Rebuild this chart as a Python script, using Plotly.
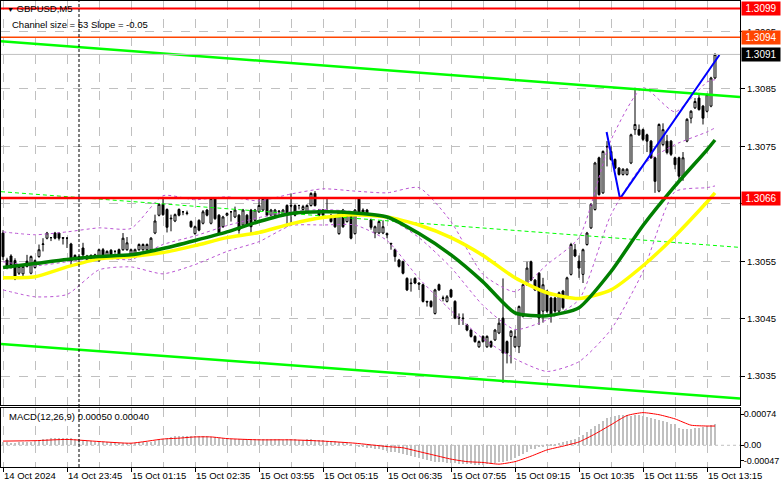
import plotly.graph_objects as go

# ---------------- data ----------------
bars = list(range(179))

opens = [
1.30599,1.30552,1.30559,1.30551,1.30529,1.30528,1.30550,1.30529,1.30539,1.30558,
1.30579,1.30590,1.30591,1.30599,1.30599,1.30591,1.30590,1.30580,1.30560,1.30558,
1.30573,1.30553,1.30554,1.30561,1.30551,1.30570,1.30559,1.30569,1.30567,1.30570,
1.30570,1.30570,1.30560,1.30560,1.30570,1.30570,1.30570,1.30570,1.30599,1.30630,
1.30649,1.30640,1.30625,1.30620,1.30640,1.30636,1.30633,1.30619,1.30598,1.30621,
1.30616,1.30639,1.30616,1.30659,1.30630,1.30610,1.30630,1.30636,1.30627,1.30630,
1.30613,1.30630,1.30639,1.30621,1.30636,1.30639,1.30659,1.30630,1.30630,1.30636,
1.30630,1.30647,1.30647,1.30647,1.30647,1.30640,1.30636,1.30647,1.30668,1.30639,
1.30639,1.30638,1.30630,1.30627,1.30598,1.30639,1.30619,1.30630,1.30598,1.30659,
1.30639,1.30639,1.30622,1.30599,1.30599,1.30599,1.30598,1.30581,1.30570,1.30552,
1.30549,1.30520,1.30512,1.30520,1.30512,1.30509,1.30480,1.30480,1.30459,1.30509,
1.30485,1.30480,1.30500,1.30480,1.30452,1.30451,1.30439,1.30430,1.30419,1.30401,
1.30419,1.30401,1.30410,1.30413,1.30425,1.30451,1.30410,1.30419,1.30401,1.30401,
1.30454,1.30509,1.30549,1.30517,1.30529,1.30463,1.30498,1.30486,1.30486,1.30463,
1.30498,1.30486,1.30527,1.30570,1.30550,1.30527,1.30579,1.30608,1.30640,1.30730,
1.30669,1.30750,1.30741,1.30727,1.30712,1.30701,1.30701,1.30721,1.30779,1.30779,
1.30779,1.30770,1.30759,1.30730,1.30672,1.30753,1.30759,1.30759,1.30730,1.30730,
1.30698,1.30759,1.30799,1.30817,1.30834,1.30820,1.30811,1.30820,1.30869]

highs = [
1.30604,1.30556,1.30562,1.30555,1.30543,1.30543,1.30561,1.30560,1.30553,1.30579,
1.30590,1.30601,1.30592,1.30601,1.30600,1.30592,1.30592,1.30582,1.30562,1.30560,
1.30582,1.30561,1.30562,1.30563,1.30572,1.30573,1.30569,1.30571,1.30569,1.30572,
1.30599,1.30592,1.30572,1.30572,1.30581,1.30581,1.30581,1.30592,1.30631,1.30651,
1.30662,1.30642,1.30631,1.30633,1.30642,1.30637,1.30638,1.30621,1.30612,1.30623,
1.30639,1.30641,1.30661,1.30661,1.30632,1.30629,1.30635,1.30637,1.30645,1.30632,
1.30641,1.30632,1.30641,1.30641,1.30659,1.30661,1.30661,1.30641,1.30641,1.30639,
1.30641,1.30649,1.30668,1.30649,1.30648,1.30648,1.30649,1.30670,1.30672,1.30641,
1.30641,1.30659,1.30632,1.30629,1.30638,1.30641,1.30632,1.30632,1.30641,1.30661,
1.30642,1.30641,1.30624,1.30612,1.30621,1.30621,1.30600,1.30582,1.30572,1.30554,
1.30551,1.30522,1.30520,1.30522,1.30513,1.30511,1.30481,1.30482,1.30502,1.30511,
1.30490,1.30491,1.30502,1.30482,1.30459,1.30459,1.30441,1.30432,1.30421,1.30412,
1.30421,1.30421,1.30412,1.30432,1.30451,1.30520,1.30412,1.30430,1.30430,1.30473,
1.30511,1.30549,1.30551,1.30519,1.30531,1.30521,1.30500,1.30488,1.30488,1.30497,
1.30500,1.30523,1.30582,1.30580,1.30560,1.30572,1.30601,1.30651,1.30723,1.30732,
1.30743,1.30759,1.30750,1.30729,1.30714,1.30712,1.30712,1.30772,1.30852,1.30788,
1.30781,1.30772,1.30761,1.30732,1.30790,1.30790,1.30770,1.30761,1.30732,1.30732,
1.30740,1.30799,1.30813,1.30834,1.30840,1.30822,1.30842,1.30871,1.30912]

lows = [
1.30552,1.30536,1.30537,1.30517,1.30526,1.30521,1.30539,1.30527,1.30537,1.30556,
1.30567,1.30588,1.30585,1.30588,1.30586,1.30579,1.30573,1.30541,1.30552,1.30555,
1.30559,1.30551,1.30552,1.30551,1.30549,1.30557,1.30557,1.30557,1.30563,1.30557,
1.30568,1.30568,1.30558,1.30558,1.30568,1.30568,1.30568,1.30568,1.30597,1.30628,
1.30629,1.30600,1.30602,1.30618,1.30628,1.30630,1.30630,1.30608,1.30596,1.30602,
1.30614,1.30628,1.30614,1.30622,1.30596,1.30608,1.30628,1.30619,1.30625,1.30598,
1.30611,1.30611,1.30598,1.30619,1.30634,1.30637,1.30628,1.30628,1.30628,1.30630,
1.30628,1.30610,1.30615,1.30628,1.30640,1.30638,1.30634,1.30645,1.30645,1.30628,
1.30628,1.30634,1.30617,1.30608,1.30596,1.30608,1.30617,1.30588,1.30596,1.30628,
1.30629,1.30627,1.30605,1.30590,1.30597,1.30597,1.30590,1.30570,1.30549,1.30539,
1.30527,1.30498,1.30497,1.30510,1.30500,1.30478,1.30471,1.30469,1.30457,1.30498,
1.30480,1.30478,1.30486,1.30449,1.30439,1.30439,1.30428,1.30417,1.30408,1.30399,
1.30408,1.30399,1.30399,1.30411,1.30423,1.30338,1.30372,1.30372,1.30399,1.30390,
1.30452,1.30507,1.30515,1.30498,1.30439,1.30443,1.30460,1.30443,1.30460,1.30460,
1.30466,1.30484,1.30525,1.30557,1.30521,1.30512,1.30577,1.30606,1.30638,1.30664,
1.30667,1.30715,1.30725,1.30710,1.30699,1.30699,1.30699,1.30719,1.30770,1.30768,
1.30759,1.30740,1.30728,1.30669,1.30670,1.30750,1.30736,1.30733,1.30710,1.30690,
1.30690,1.30757,1.30790,1.30815,1.30812,1.30788,1.30809,1.30818,1.30867]

closes = [
1.30558,1.30541,1.30540,1.30519,1.30541,1.30541,1.30541,1.30558,1.30551,1.30570,
1.30580,1.30599,1.30591,1.30590,1.30590,1.30590,1.30590,1.30550,1.30555,1.30557,
1.30561,1.30559,1.30560,1.30553,1.30570,1.30559,1.30567,1.30559,1.30567,1.30559,
1.30590,1.30582,1.30570,1.30570,1.30579,1.30579,1.30579,1.30590,1.30620,1.30649,
1.30631,1.30609,1.30624,1.30631,1.30630,1.30636,1.30634,1.30610,1.30610,1.30604,
1.30636,1.30630,1.30659,1.30624,1.30598,1.30627,1.30633,1.30636,1.30639,1.30604,
1.30639,1.30613,1.30610,1.30639,1.30647,1.30659,1.30630,1.30639,1.30639,1.30637,
1.30639,1.30630,1.30646,1.30630,1.30647,1.30645,1.30647,1.30668,1.30647,1.30630,
1.30630,1.30637,1.30619,1.30610,1.30636,1.30610,1.30630,1.30590,1.30639,1.30630,
1.30631,1.30629,1.30609,1.30610,1.30619,1.30610,1.30596,1.30580,1.30558,1.30541,
1.30529,1.30500,1.30511,1.30512,1.30510,1.30480,1.30479,1.30471,1.30500,1.30500,
1.30486,1.30488,1.30488,1.30451,1.30451,1.30450,1.30430,1.30419,1.30410,1.30410,
1.30410,1.30419,1.30401,1.30430,1.30442,1.30390,1.30390,1.30428,1.30419,1.30471,
1.30509,1.30538,1.30517,1.30500,1.30451,1.30509,1.30463,1.30457,1.30463,1.30495,
1.30469,1.30521,1.30579,1.30559,1.30538,1.30570,1.30599,1.30649,1.30721,1.30666,
1.30741,1.30749,1.30727,1.30712,1.30701,1.30710,1.30710,1.30770,1.30788,1.30770,
1.30762,1.30759,1.30730,1.30689,1.30788,1.30779,1.30739,1.30736,1.30718,1.30698,
1.30730,1.30797,1.30811,1.30828,1.30814,1.30799,1.30840,1.30869,1.30910]

# indicator readings (sampled every 8 bars)
ind_bars = [0, 8, 16, 24, 32, 40, 48, 56, 64, 72, 80, 88, 96, 104, 112, 120,
            128, 136, 144, 152, 160, 168, 176, 178]
ma_green = [1.30539, 1.30546, 1.30553, 1.30558, 1.30561, 1.30572, 1.30586, 1.30601,
            1.30619, 1.30633, 1.30636, 1.30634, 1.30627, 1.30598, 1.30561, 1.30514,
            1.30460, 1.30455, 1.30469, 1.30532, 1.30612, 1.30681, 1.30744, 1.30761]
ma_yellow = [1.30521, 1.30523, 1.30540, 1.30554, 1.30558, 1.30565, 1.30577, 1.30591,
             1.30600, 1.30615, 1.30626, 1.30631, 1.30627, 1.30613, 1.30591, 1.30560,
             1.30521, 1.30495, 1.30485, 1.30500, 1.30542, 1.30594, 1.30653, 1.30669]
bb_upper = [1.30601, 1.30596, 1.30601, 1.30608, 1.30607, 1.30664, 1.30657, 1.30662,
            1.30655, 1.30667, 1.30676, 1.30672, 1.30669, 1.30678, 1.30619, 1.30527,
            1.30497, 1.30544, 1.30591, 1.30761, 1.30852, 1.30810, 1.30862, 1.30866]
bb_middle = [1.30549, 1.30542, 1.30549, 1.30556, 1.30553, 1.30579, 1.30594, 1.30612,
             1.30626, 1.30636, 1.30640, 1.30636, 1.30626, 1.30591, 1.30539, 1.30473,
             1.30431, 1.30448, 1.30483, 1.30631, 1.30718, 1.30753, 1.30775, 1.30782]
bb_lower = [1.30500, 1.30488, 1.30492, 1.30535, 1.30540, 1.30528, 1.30544, 1.30567,
            1.30584, 1.30612, 1.30613, 1.30613, 1.30586, 1.30520, 1.30464, 1.30415,
            1.30380, 1.30358, 1.30375, 1.30431, 1.30532, 1.30671, 1.30678, 1.30681]

macd_hist = [
0.00008,0.00007,0.00006,0.00006,0.00007,0.00008,0.00008,0.00009,
0.00010,0.00012,0.00014,
0.00016,0.00017,0.00017,0.00018,0.00018,0.00017,0.00017,0.00016,0.00015,
0.00012,0.00010,0.00010,0.00009,0.00009,0.00008,0.00008,0.00007,
0.00007,0.00006,0.00006,0.00006,0.00006,0.00006,0.00007,0.00007,0.00007,0.00008,
0.00010,0.00013,0.00016,0.00018,0.00020,0.00021,
0.00022,0.00022,0.00023,0.00023,0.00022,0.00022,0.00021,0.00021,0.00020,
0.00019,0.00018,0.00017,0.00017,0.00016,0.00016,0.00015,0.00015,0.00015,
0.00014,0.00014,0.00015,0.00015,0.00014,0.00014,0.00014,0.00014,0.00013,
0.00014,0.00014,0.00014,0.00013,0.00013,0.00014,0.00014,0.00013,0.00013,
0.00012,0.00011,0.00010,0.00010,0.00009,0.00008,0.00006,
0.00003,0.00000,-0.00002,-0.00004,-0.00006,-0.00007,-0.00008,-0.00010,-0.00012,
-0.00013,-0.00015,-0.00016,-0.00018,
-0.00020,-0.00022,-0.00025,-0.00028,-0.00030,
-0.00033,-0.00035,-0.00037,-0.00039,-0.00040,-0.00041,-0.00042,-0.00042,
-0.00043,-0.00044,-0.00044,-0.00045,-0.00045,-0.00046,-0.00046,-0.00046,
-0.00045,-0.00044,-0.00042,-0.00040,-0.00040,-0.00038,
-0.00035,-0.00030,-0.00025,-0.00020,-0.00015,
-0.00010,-0.00008,-0.00005,
-0.00002,0.00002,0.00003,0.00004,0.00006,
0.00008,0.00010,0.00013,0.00016,
0.00020,0.00025,0.00031,0.00038,
0.00045,0.00052,0.00058,0.00064,
0.00068,0.00071,0.00073,0.00073,0.00072,0.00071,0.00072,
0.00072,0.00071,0.00068,0.00066,
0.00062,0.00060,0.00057,0.00055,0.00052,0.00050,
0.00042,0.00038,0.00038,
0.00040,0.00041,0.00042,0.00043,
0.00046,0.00048,0.00050]

signal_bars = [0, 8, 16, 24, 32, 40, 44, 48, 52, 56, 64, 72, 80, 88, 96, 100, 104,
               108, 112, 116, 120, 124, 128, 132, 136, 140, 144, 148, 152, 156, 160,
               164, 168, 172, 176, 178]
signal_vals = [0.00010, 0.00011, 0.00014, 0.00009, 0.00005, 0.00015, 0.00017, 0.00020,
               0.00020, 0.00016, 0.00013, 0.00013, 0.00010, 0.00005, -0.00003, -0.00006,
               -0.00015, -0.00024, -0.00033, -0.00039, -0.00041, -0.00045, -0.00039,
               -0.00026, -0.00011, -0.00002, 0.00008, 0.00027, 0.00049, 0.00071,
               0.00078, 0.00073, 0.00063, 0.00048, 0.00046, 0.00046]

channel_bars = [-0.5, 184.25]
channel_upper = [1.30933, 1.30836]
channel_mid = [1.30671, 1.30574]
channel_lower = [1.30406, 1.30311]

trend_bars = [150.9, 154.25, 179.1]
trend_prices = [1.30775, 1.30659, 1.30909]

levels = [1.3099, 1.3094, 1.3091, 1.3066]
level_colors = ["#ff0000", "#ff4500", "#c0c0c0", "#ff0000"]
level_widths = [2, 1.5, 1, 2.5]
level_label_bg = ["#ff0000", "#ff4500", "#000000", "#ff0000"]
level_texts = ["1.3099", "1.3094", "1.3091", "1.3066"]

price_ticks = [1.3035, 1.3045, 1.3055, 1.3065, 1.3075, 1.3085, 1.3095]
price_ticktext = ["1.3035", "1.3045", "1.3055", "", "1.3075", "1.3085", "1.3095"]
macd_tickvals = [0.00074, 0.0, -0.000368]
macd_ticktext = ["0.00074", "0.00", "-0.00047"]
time_tick_bars = [0, 16, 32, 48, 64, 80, 96, 112, 128, 144, 160, 176]
time_labels = ["14 Oct 2024", "14 Oct 23:45", "15 Oct 01:15", "15 Oct 02:35",
               "15 Oct 03:55", "15 Oct 05:15", "15 Oct 06:35", "15 Oct 07:55",
               "15 Oct 09:15", "15 Oct 10:35", "15 Oct 11:55", "15 Oct 13:15"]
grid_minor_bars = [8, 24, 40, 56, 72, 88, 104, 120, 136, 152, 168, 184]
day_break_bar = 19

# ---------------- figure ----------------
FONT = "Liberation Sans"
FS = 9.5
GRID = "#c0c0c0"
fig = go.Figure()

for band in (bb_upper, bb_middle, bb_lower):
    fig.add_trace(go.Scatter(x=ind_bars, y=band, mode="lines",
                             line=dict(color="#ba55d3", width=1, dash="3px,3px", shape="spline", smoothing=0.6),
                             xaxis="x", yaxis="y", hoverinfo="skip", showlegend=False))

fig.add_trace(go.Scatter(x=channel_bars, y=channel_mid, mode="lines",
                         line=dict(color="#00ff00", width=1, dash="4px,3px"),
                         xaxis="x", yaxis="y", hoverinfo="skip", showlegend=False))

fig.add_trace(go.Candlestick(x=bars, open=opens, high=highs, low=lows, close=closes,
                             increasing=dict(line=dict(color="black", width=1), fillcolor="white"),
                             decreasing=dict(line=dict(color="black", width=1), fillcolor="black"),
                             whiskerwidth=0, xaxis="x", yaxis="y", hoverinfo="skip",
                             showlegend=False))

fig.add_trace(go.Scatter(x=ind_bars, y=ma_yellow, mode="lines",
                         line=dict(color="#ffff00", width=3.5, shape="spline", smoothing=0.6),
                         xaxis="x", yaxis="y", hoverinfo="skip", showlegend=False))
fig.add_trace(go.Scatter(x=ind_bars, y=ma_green, mode="lines",
                         line=dict(color="#007f00", width=3.5, shape="spline", smoothing=0.6),
                         xaxis="x", yaxis="y", hoverinfo="skip", showlegend=False))

for ch in (channel_upper, channel_lower):
    fig.add_trace(go.Scatter(x=channel_bars, y=ch, mode="lines",
                             line=dict(color="#00ff00", width=2.5),
                             xaxis="x", yaxis="y", hoverinfo="skip", showlegend=False))

fig.add_trace(go.Scatter(x=trend_bars, y=trend_prices, mode="lines",
                         line=dict(color="#0000ff", width=2),
                         xaxis="x", yaxis="y", hoverinfo="skip", showlegend=False))

fig.add_trace(go.Bar(x=bars, y=macd_hist, marker=dict(color="#c0c0c0", line=dict(width=0)),
                     width=0.55, xaxis="x2", yaxis="y2", hoverinfo="skip", showlegend=False))
fig.add_trace(go.Scatter(x=signal_bars, y=signal_vals, mode="lines",
                         line=dict(color="#ff0000", width=1, shape="spline", smoothing=0.5),
                         xaxis="x2", yaxis="y2", hoverinfo="skip", showlegend=False))

shapes = []
for lv, col, w in zip(levels, level_colors, level_widths):
    shapes.append(dict(type="line", xref="paper", x0=0, x1=1, yref="y", y0=lv, y1=lv,
                       line=dict(color=col, width=w), layer="above"))
shapes.append(dict(type="line", xref="paper", x0=0, x1=1, yref="y2", y0=0, y1=0,
                   line=dict(color=GRID, width=1, dash="3px,3px"), layer="below"))
shapes.append(dict(type="line", xref="x", x0=day_break_bar, x1=day_break_bar, yref="paper",
                   y0=0, y1=1, line=dict(color="black", width=1, dash="3px,2px"), layer="above"))

annotations = []
for lv, bg, txt in zip(levels, level_label_bg, level_texts):
    annotations.append(dict(xref="paper", x=1, xanchor="left", xshift=1, yref="y", y=lv,
                            yanchor="middle", text=txt, showarrow=False, bgcolor=bg,
                            font=dict(family=FONT, size=FS + 0.5, color="white"),
                            width=36, height=11, borderpad=1, align="center"))
annotations.append(dict(xref="paper", yref="paper", x=0, y=1, xanchor="left", yanchor="top",
                        xshift=4, yshift=0, showarrow=False,
                        text="<span style='font-size:7px'>▼</span> GBPUSD,M5",
                        font=dict(family=FONT, size=FS, color="black")))
annotations.append(dict(xref="paper", yref="paper", x=0, y=1, xanchor="left", yanchor="top",
                        xshift=9, yshift=-16, showarrow=False,
                        text="Channel size = 53 Slope = -0.05",
                        font=dict(family=FONT, size=FS, color="black")))
annotations.append(dict(xref="paper", yref="paper", x=0, y=0.12661, xanchor="left", yanchor="top",
                        xshift=6, yshift=-1, showarrow=False,
                        text="MACD(12,26,9) 0.00050 0.00040",
                        font=dict(family=FONT, size=FS, color="black")))

fig.update_layout(
    width=781, height=489,
    margin=dict(l=1, r=41, t=1, b=22, pad=0, autoexpand=False),
    paper_bgcolor="white", plot_bgcolor="white",
    font=dict(family=FONT, size=FS, color="black"),
    showlegend=False, bargap=0,
    shapes=shapes, annotations=annotations,
    xaxis=dict(domain=[0, 1], anchor="y", range=[-0.5, 184.25], showticklabels=False,
               ticks="", tick0=0, dtick=8, showgrid=True, gridcolor=GRID, griddash="dash",
               gridwidth=1, zeroline=False, showline=True, mirror=True, linecolor="black",
               linewidth=1, rangeslider=dict(visible=False), fixedrange=True, automargin=False),
    yaxis=dict(domain=[0.13305, 1], anchor="x", side="right", range=[1.302996, 1.310030],
               tickmode="array", tickvals=price_ticks, ticktext=price_ticktext,
               ticks="outside", ticklen=4, tickcolor="black", showgrid=True, gridcolor=GRID,
               griddash="dash", zeroline=False, showline=True, mirror=True,
               linecolor="black", linewidth=1, automargin=False,
               tickfont=dict(family=FONT, size=FS, color="black")),
    xaxis2=dict(domain=[0, 1], anchor="y2", range=[-0.5, 184.25], tickmode="array",
                tickvals=time_tick_bars, ticktext=time_labels, ticks="outside", ticklen=4,
                tickcolor="black", ticklabelposition="outside right", tickangle=0,
                showgrid=True, gridcolor=GRID, griddash="dash", zeroline=False,
                showline=True, mirror=True, linecolor="black", linewidth=1,
                minor=dict(tickmode="array", tickvals=grid_minor_bars, showgrid=True,
                           gridcolor=GRID, griddash="dash", ticks=""),
                tickfont=dict(family=FONT, size=FS, color="black"), fixedrange=True,
                automargin=False),
    yaxis2=dict(domain=[0, 0.12661], anchor="x2", side="right", range=[-0.000518, 0.00089],
                tickmode="array", tickvals=macd_tickvals, ticktext=macd_ticktext,
                ticks="outside", ticklen=3, tickcolor="black", showgrid=False,
                ticklabelstandoff=-2,
                zeroline=False, showline=True, mirror=True, linecolor="black", linewidth=1,
                automargin=False, tickfont=dict(family=FONT, size=9, color="black")),
)

fig.write_html("out.html", config={"displayModeBar": False},
               post_script="document.body.style.margin='0';document.body.style.padding='0';")
